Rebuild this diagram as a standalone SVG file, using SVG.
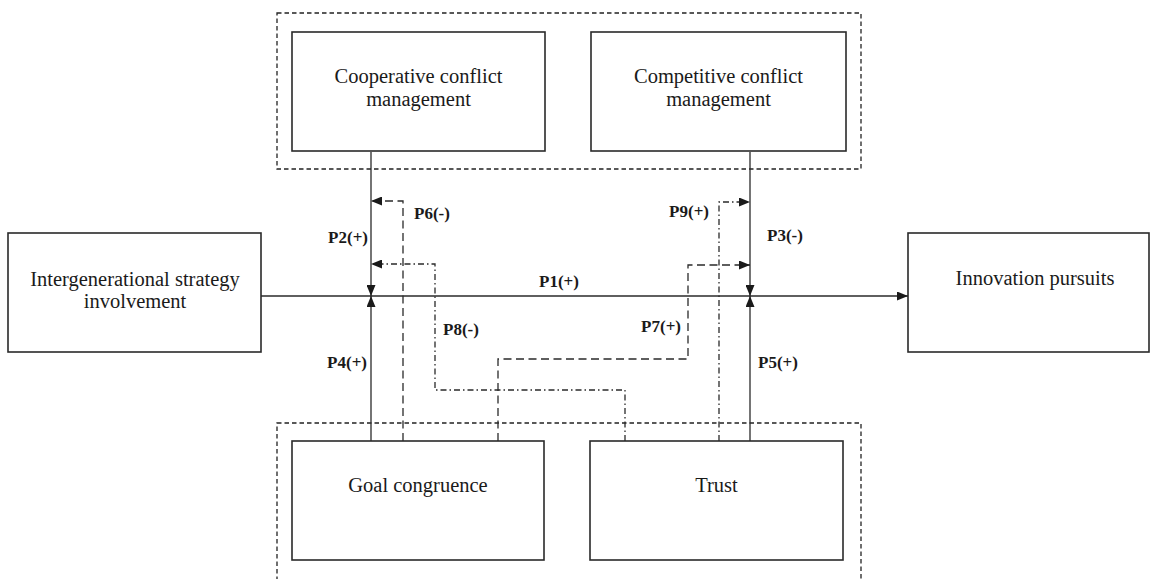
<svg xmlns="http://www.w3.org/2000/svg" width="1152" height="579" viewBox="0 0 1152 579">
<style>
.box{fill:#fff;stroke:#2a2a2a;stroke-width:1.6}
.grp{fill:none;stroke:#222;stroke-width:1.3;stroke-dasharray:4.5 3}
.t{font-family:"Liberation Serif","Times New Roman",serif;font-size:20.5px;fill:#1a1a1a;text-anchor:middle}
.lbl{font-family:"Liberation Serif","Times New Roman",serif;font-size:17px;font-weight:bold;fill:#1a1a1a}
.c{fill:none;stroke:#2a2a2a;stroke-width:1.3}
.dash{stroke-dasharray:8 4.5}
.dd{stroke-dasharray:6 3 1.5 3}
</style>
<defs>
<marker id="ah" markerUnits="userSpaceOnUse" markerWidth="11" markerHeight="9" refX="11" refY="4.5" orient="auto">
<path d="M0,0 L11,4.5 L0,9 Z" fill="#1a1a1a" stroke="none"/>
</marker>
</defs>
<rect x="0" y="0" width="1152" height="579" fill="#fff"/>
<g id="groups">
<rect class="grp" x="277" y="13" width="584" height="156"/>
<rect class="grp" x="277" y="423" width="584" height="200"/>
</g>
<g id="connectors">
<line class="c" x1="261" y1="296" x2="908" y2="296" marker-end="url(#ah)"/>
<line class="c" x1="371" y1="152" x2="371" y2="296" marker-end="url(#ah)"/>
<line class="c" x1="371" y1="441" x2="371" y2="296" marker-end="url(#ah)"/>
<line class="c" x1="750" y1="152" x2="750" y2="296" marker-end="url(#ah)"/>
<line class="c" x1="750" y1="441" x2="750" y2="296" marker-end="url(#ah)"/>
<polyline class="c dash" points="403,441 403,201 371,201" marker-end="url(#ah)"/>
<polyline class="c dd" points="625,441 625,390 435,390 435,264 371,264" marker-end="url(#ah)"/>
<polyline class="c dash" points="498,441 498,359 688,359 688,265 750,265" marker-end="url(#ah)"/>
<polyline class="c dd" points="719,441 719,202 750,202" marker-end="url(#ah)"/>
</g>
<g id="labels">
<text class="lbl" x="559" y="287" text-anchor="middle">P1(+)</text>
<text class="lbl" x="368" y="243" text-anchor="end">P2(+)</text>
<text class="lbl" x="767" y="241">P3(-)</text>
<text class="lbl" x="367" y="368" text-anchor="end">P4(+)</text>
<text class="lbl" x="758" y="368">P5(+)</text>
<text class="lbl" x="414" y="219">P6(-)</text>
<text class="lbl" x="681" y="332" text-anchor="end">P7(+)</text>
<text class="lbl" x="443" y="335">P8(-)</text>
<text class="lbl" x="709" y="217" text-anchor="end">P9(+)</text>
</g>
<g id="n-coop">
<rect class="box" x="292" y="32" width="253" height="119"/>
<text class="t" x="418.5" y="83">Cooperative conflict</text>
<text class="t" x="418.5" y="106">management</text>
</g>
<g id="n-comp">
<rect class="box" x="591" y="32" width="255" height="119"/>
<text class="t" x="718.5" y="83">Competitive conflict</text>
<text class="t" x="718.5" y="106">management</text>
</g>
<g id="n-isi">
<rect class="box" x="8" y="233" width="253" height="119"/>
<text class="t" x="135" y="286">Intergenerational strategy</text>
<text class="t" x="135" y="308">involvement</text>
</g>
<g id="n-innov">
<rect class="box" x="908" y="233" width="241" height="119"/>
<text class="t" x="1035" y="285">Innovation pursuits</text>
</g>
<g id="n-goal">
<rect class="box" x="292" y="441" width="252" height="119"/>
<text class="t" x="418" y="492">Goal congruence</text>
</g>
<g id="n-trust">
<rect class="box" x="590" y="441" width="253" height="119"/>
<text class="t" x="716.5" y="492">Trust</text>
</g>
</svg>
